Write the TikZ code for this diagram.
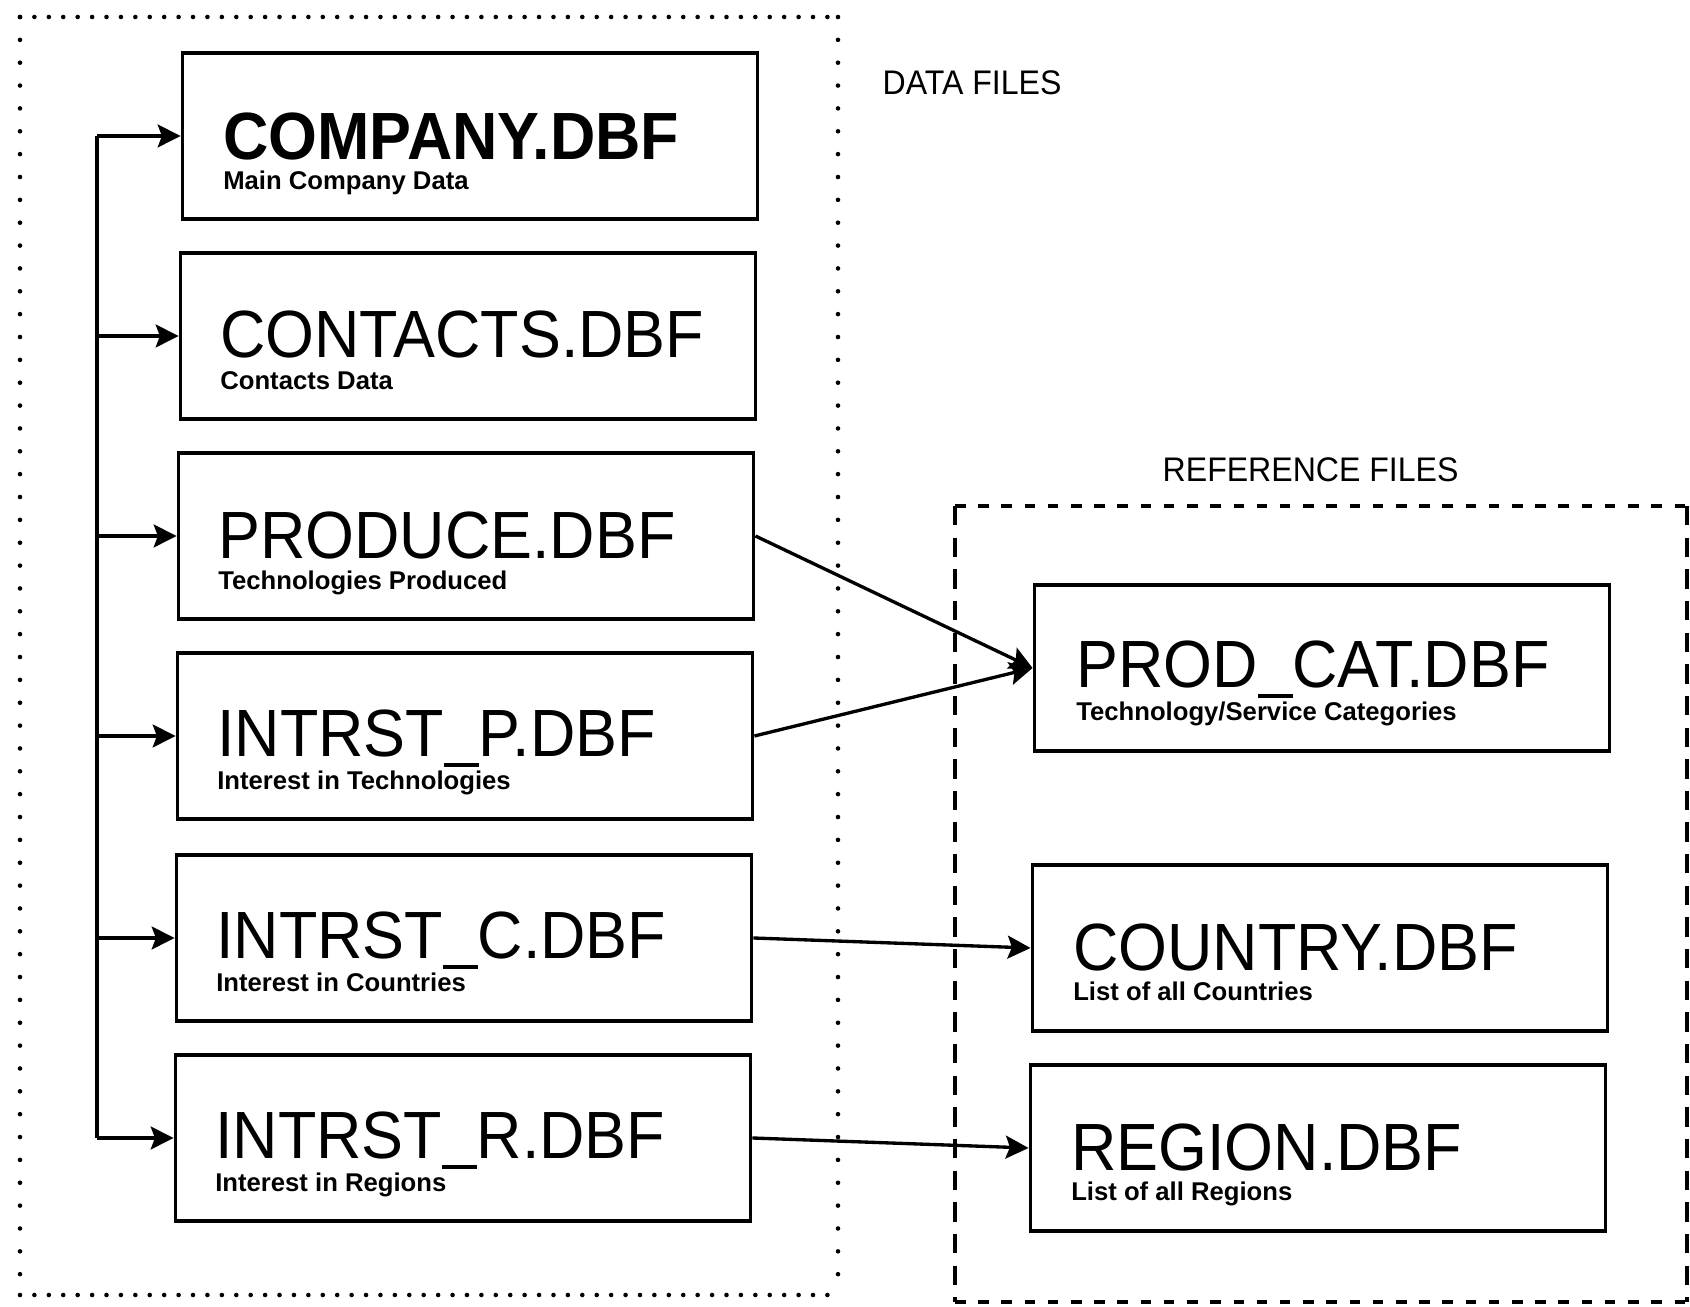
\documentclass[tikz,border=0pt]{standalone}
\usepackage{fontspec}
\setmainfont{Liberation Sans}
\newfontfamily\dbffont[FakeStretch=0.94]{Liberation Sans}
\newcommand\dbfus{\rule[-0.16em]{0.52em}{0.05em}}
\usetikzlibrary{positioning,arrows.meta,calc}
\begin{document}
\begin{tikzpicture}[x=0.01cm,y=-0.01cm,>={Stealth[length=6.5pt,width=6.5pt,inset=1.2pt]},
filebox/.style = {draw, rectangle, line width=1pt, minimum width=5.75cm, minimum height=1.66cm, inner sep=0pt},
fname/.style = {inner sep=0pt, anchor=base west, font=\dbffont\fontsize{19}{20}\selectfont},
fdesc/.style = {inner sep=0pt, anchor=base west, font=\bfseries\fontsize{7.3}{8}\selectfont},
grouplbl/.style = {inner sep=0pt, anchor=base west, font=\dbffont\fontsize{9.7}{11}\selectfont},
link/.style = {->, line width=0.95pt},
dotrow/.style = {line width=1.3pt, line cap=round, dash pattern=on 0pt off 4.1pt},
dotcol/.style = {line width=1.3pt, line cap=round, dash pattern=on 0pt off 6.5pt},
dashrow/.style = {line width=0.9pt, dash pattern=on 3pt off 3.6pt},
dashcol/.style = {line width=0.9pt, dash pattern=on 5.5pt off 3.5pt},]
\useasboundingbox (0,0) rectangle (1690,1307);
\draw[dotrow] (20,17) -- (838,17);
\draw[dotrow] (20,1295) -- (838,1295);
\draw[dotcol] (20,17) -- (20,1295);
\draw[dotcol] (838,17) -- (838,1295);
\draw[dashrow] (955,506) -- (1687,506);
\draw[dashrow] (955,1302) -- (1687,1302);
\draw[dashcol] (955,506) -- (955,1302);
\draw[dashcol] (1687,506) -- (1687,1302);
\node[grouplbl] (datalbl) at (882,95) {DATA FILES};
\node[grouplbl] (reflbl) at (1162,482) {REFERENCE FILES};
\node[filebox] (company) at (470,136) {};
\node[filebox] (contacts) at (468,336) {};
\node[filebox] (produce) at (466,536) {};
\node[filebox] (intrstp) at (465,736) {};
\node[filebox] (intrstc) at (464,938) {};
\node[filebox] (intrstr) at (463,1138) {};
\node[filebox] (prodcat) at (1322,668) {};
\node[filebox] (country) at (1320,948) {};
\node[filebox] (region) at (1318,1148) {};
\node[fname] (companyn) at ([xshift=0.42cm,yshift=-0.23cm]company.west) {\bfseries COMPANY.DBF};
\node[fdesc] (companyd) at ([xshift=0.42cm,yshift=-0.53cm]company.west) {Main Company Data};
\node[fname] (contactsn) at ([xshift=0.41cm,yshift=-0.22cm]contacts.west) {CONTACTS.DBF};
\node[fdesc] (contactsd) at ([xshift=0.41cm,yshift=-0.53cm]contacts.west) {Contacts Data};
\node[fname] (producen) at ([xshift=0.41cm,yshift=-0.22cm]produce.west) {PRODUCE.DBF};
\node[fdesc] (produced) at ([xshift=0.41cm,yshift=-0.53cm]produce.west) {Technologies Produced};
\node[fname] (intrstpn) at ([xshift=0.41cm,yshift=-0.20cm]intrstp.west) {INTRST\dbfus P.DBF};
\node[fdesc] (intrstpd) at ([xshift=0.41cm,yshift=-0.53cm]intrstp.west) {Interest in Technologies};
\node[fname] (intrstcn) at ([xshift=0.41cm,yshift=-0.20cm]intrstc.west) {INTRST\dbfus C.DBF};
\node[fdesc] (intrstcd) at ([xshift=0.41cm,yshift=-0.53cm]intrstc.west) {Interest in Countries};
\node[fname] (intrstrn) at ([xshift=0.41cm,yshift=-0.20cm]intrstr.west) {INTRST\dbfus R.DBF};
\node[fdesc] (intrstrd) at ([xshift=0.41cm,yshift=-0.53cm]intrstr.west) {Interest in Regions};
\node[fname] (prodcatn) at ([xshift=0.43cm,yshift=-0.19cm]prodcat.west) {PROD\dbfus CAT.DBF};
\node[fdesc] (prodcatd) at ([xshift=0.43cm,yshift=-0.52cm]prodcat.west) {Technology/Service Categories};
\node[fname] (countryn) at ([xshift=0.42cm,yshift=-0.22cm]country.west) {COUNTRY.DBF};
\node[fdesc] (countryd) at ([xshift=0.42cm,yshift=-0.52cm]country.west) {List of all Countries};
\node[fname] (regionn) at ([xshift=0.42cm,yshift=-0.22cm]region.west) {REGION.DBF};
\node[fdesc] (regiond) at ([xshift=0.42cm,yshift=-0.52cm]region.west) {List of all Regions};
\coordinate (bustop) at (97,136);
\coordinate (busbot) at (97,1138);
\draw[line width=0.95pt] (bustop)--(busbot);
\draw[link] (bustop)--(company.west);
\draw[link] (bustop |- contacts.west)--(contacts.west);
\draw[link] (bustop |- produce.west)--(produce.west);
\draw[link] (bustop |- intrstp.west)--(intrstp.west);
\draw[link] (bustop |- intrstc.west)--(intrstc.west);
\draw[link] (busbot)--(intrstr.west);
\draw[link] (produce.east)--(prodcat.west);
\draw[link] (intrstp.east)--(prodcat.west);
\draw[link] (intrstc.east)--(country.west);
\draw[link] (intrstr.east)--(region.west);
\end{tikzpicture}
\end{document}
